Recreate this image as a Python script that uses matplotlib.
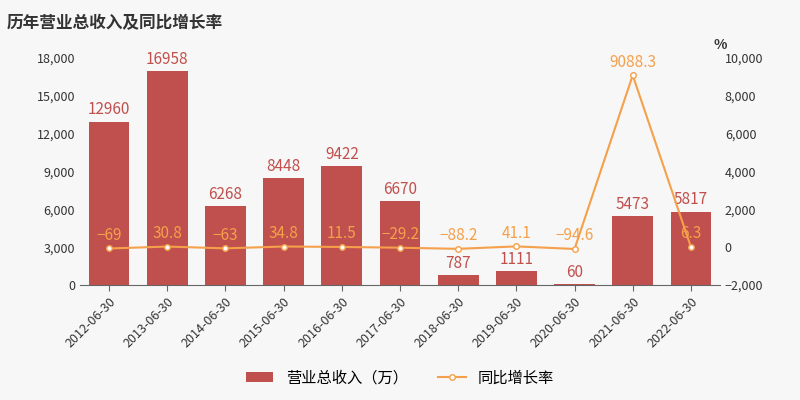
import matplotlib.pyplot as plt
from matplotlib.ticker import FuncFormatter

plt.rcParams['font.family'] = ['Noto Sans CJK SC', 'DejaVu Sans']

dates = ['2012-06-30', '2013-06-30', '2014-06-30', '2015-06-30', '2016-06-30', '2017-06-30',
         '2018-06-30', '2019-06-30', '2020-06-30', '2021-06-30', '2022-06-30']
revenue = [12960, 16958, 6268, 8448, 9422, 6670, 787, 1111, 60, 5473, 5817]
growth = [-69, 30.8, -63, 34.8, 11.5, -29.2, -88.2, 41.1, -94.6, 9088.3, 6.3]
growth_labels = ['−69', '30.8', '−63', '34.8', '11.5', '−29.2', '−88.2', '41.1', '−94.6', '9088.3', '6.3']

bar_color = '#c0504d'
line_color = '#f5a04a'
bg = '#f7f7f7'

fig = plt.figure(figsize=(8, 4), dpi=100, facecolor=bg)
ax = fig.add_axes([0.1, 0.2875, 0.8, 0.5675], facecolor=bg)
ax2 = ax.twinx()

x = range(len(dates))
ax.bar(x, revenue, width=0.7, color=bar_color, zorder=2, label='营业总收入（万）')
for i, v in enumerate(revenue):
    ax.text(i, v + 250, str(v), ha='center', va='bottom', fontsize=11, color=bar_color)

ax.set_ylim(0, 18000)
ax.set_yticks(range(0, 18001, 3000))
ax.yaxis.set_major_formatter(FuncFormatter(lambda v, p: f'{int(v):,}'))
ax.set_xlim(-0.5, len(dates) - 0.5)
ax.set_xticks(list(x))
ax.set_xticklabels(dates, rotation=45, ha='right', rotation_mode='anchor', fontsize=9, color='#333333')
ax.tick_params(axis='y', labelsize=9, colors='#333333', length=0)
ax.tick_params(axis='x', length=4, color='#666666')
for s in ['top', 'right', 'left']:
    ax.spines[s].set_visible(False)
ax.spines['bottom'].set_color('#666666')

ax2.plot(list(x), growth, color=line_color, marker='o', markersize=4, markerfacecolor='white',
         markeredgecolor=line_color, linewidth=1.5, zorder=3, label='同比增长率')
for i, v in enumerate(growth):
    ax2.text(i, v + 250, growth_labels[i], ha='center', va='bottom', fontsize=11, color=line_color)
ax2.set_ylim(-2000, 10000)
ax2.set_yticks(range(-2000, 10001, 2000))
ax2.yaxis.set_major_formatter(FuncFormatter(lambda v, p: f'{int(v):,}'.replace('-', '−')))
ax2.tick_params(axis='y', labelsize=9, colors='#333333', length=0)
for s in ['top', 'right', 'left', 'bottom']:
    ax2.spines[s].set_visible(False)
ax2.text(1.0, 1.04, '%', transform=ax2.transAxes, fontsize=10, fontweight='bold', color='#333333', ha='center')

fig.text(0.008, 0.965, '历年营业总收入及同比增长率', fontsize=12, fontweight='bold', color='#333333', va='top')

h1, l1 = ax.get_legend_handles_labels()
h2, l2 = ax2.get_legend_handles_labels()
fig.legend(h1 + h2, l1 + l2, loc='lower center', bbox_to_anchor=(0.5, 0.0), ncol=2, frameon=False,
           fontsize=11, handlelength=1.8)

fig.savefig('out.png', dpi=100, facecolor=bg)
